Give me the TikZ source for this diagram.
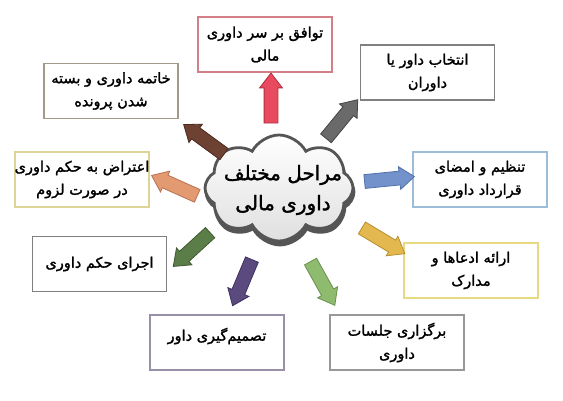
\documentclass[tikz,border=0pt]{standalone}
\usepackage{fontspec}
\newfontfamily\fab[Script=Arabic,FakeBold=1.6]{DejaVu Sans}
\TeXXeTstate=1
\usetikzlibrary{shapes.symbols,shapes.arrows}
\definecolor{cRed}{HTML}{E84A5F}\definecolor{cRedD}{HTML}{B03040}
\definecolor{cGray}{HTML}{6A6A6A}\definecolor{cGrayD}{HTML}{444444}
\definecolor{cBrown}{HTML}{6E4232}\definecolor{cBrownD}{HTML}{4A2A20}
\definecolor{cOrange}{HTML}{E49A70}\definecolor{cOrangeD}{HTML}{B87050}
\definecolor{cBlue}{HTML}{7392CC}\definecolor{cBlueD}{HTML}{5070A8}
\definecolor{cYellow}{HTML}{E3B84E}\definecolor{cYellowD}{HTML}{B89030}
\definecolor{cLGreen}{HTML}{8FBB6E}\definecolor{cLGreenD}{HTML}{6A9050}
\definecolor{cPurple}{HTML}{5B4A7E}\definecolor{cPurpleD}{HTML}{3E3060}
\definecolor{cDGreen}{HTML}{5B7D47}\definecolor{cDGreenD}{HTML}{405A30}
\definecolor{bRed}{HTML}{D47F88}
\definecolor{bGray}{HTML}{808080}
\definecolor{bTan}{HTML}{A09A88}
\definecolor{bPale}{HTML}{DDD598}
\definecolor{bBlue}{HTML}{9DBCD8}
\definecolor{bYellow}{HTML}{E8DA80}
\definecolor{bPurple}{HTML}{9890A8}
\definecolor{bLGray}{HTML}{989898}
\definecolor{cloudEdge}{HTML}{555555}
\tikzset{
  stagebox/.style={draw=#1, line width=1.1pt, fill=white, minimum width=134pt, minimum height=55pt, inner sep=0pt},
  stagetext/.style={font=\fab\fontsize{14.5}{23}\selectfont, align=center, text=black, inner sep=0pt},
  blockarrow/.style={single arrow, draw=#1, line width=0.8pt, inner sep=6.5pt, minimum height=50pt,
     single arrow head extend=4.5pt, single arrow tip angle=75, sloped, allow upside down},
  cloudshape/.style={cloud, cloud puffs=8, cloud puff arc=125, aspect=1.4, minimum width=148pt, minimum height=106pt, line width=2.8pt}
}
\begin{document}
\begin{tikzpicture}[x=1pt,y=-1pt]
\useasboundingbox (0,0) rectangle (563,400);
\fill[white] (0,0) rectangle (563,400);
% boxes
\node[stagebox=bRed] (b1) at (265,44.5) {};
\node[stagetext] (t1) at (b1) {\beginR توافق بر سر داوری\endR\\\beginR مالی\endR};
\node[stagebox=bGray] (b2) at (427.5,72.5) {};
\node[stagetext] (t2) at (b2) {\beginR انتخاب داور یا\endR\\\beginR داوران\endR};
\node[stagebox=bTan] (b3) at (111,91) {};
\node[stagetext] (t3) at (b3) {\beginR خاتمه داوری و بسته\endR\\\beginR شدن پرونده\endR};
\node[stagebox=bPale] (b4) at (82,179.5) {};
\node[stagetext] (t4) at (b4) {\beginR اعتراض به حکم داوری\endR\\\beginR در صورت لزوم\endR};
\node[stagebox=bBlue] (b5) at (480,179.5) {};
\node[stagetext] (t5) at (b5) {\beginR تنظیم و امضای\endR\\\beginR قرارداد داوری\endR};
\node[stagebox=bYellow] (b6) at (471,270.5) {};
\node[stagetext] (t6) at (b6) {\beginR ارائه ادعاها و\endR\\\beginR مدارک\endR};
\node[stagebox=bGray] (b7) at (99.5,264) {};
\node[stagetext] (t7) at (b7) {\beginR اجرای حکم داوری\endR};
\node[stagebox=bPurple] (b8) at (217,342.5) {};
\node[stagetext] (t8) at (217,336) {\beginR تصمیم‌گیری داور\endR};
\node[stagebox=bLGray] (b9) at (397,342.5) {};
\node[stagetext] (t9) at (b9) {\beginR برگزاری جلسات\endR\\\beginR داوری\endR};
% cloud
\node[cloudshape, fill=cloudEdge, draw=cloudEdge] (shadow) at (280,192) {};
\node[cloudshape, top color=white, bottom color=gray!25, draw=cloudEdge] (cl) at (279,188) {};
\node[font=\fab\fontsize{20}{30}\selectfont, align=center, inner sep=0pt] (ctext) at (283,190)
  {\beginR مراحل مختلف\endR\\\beginR داوری مالی\endR};
% arrows
\coordinate (a1t) at (271,127); \coordinate (a1h) at (271,78);
\coordinate (a2t) at (323,142); \coordinate (a2h) at (355,103);
\coordinate (a3t) at (228,157); \coordinate (a3h) at (187,127);
\coordinate (a4t) at (202,198); \coordinate (a4h) at (155,177);
\coordinate (a5t) at (360,182); \coordinate (a5h) at (410,177);
\coordinate (a6t) at (357,225); \coordinate (a6h) at (402,252);
\coordinate (a7t) at (308,257); \coordinate (a7h) at (333,302);
\coordinate (a8t) at (253,257); \coordinate (a8h) at (235,300);
\coordinate (a9t) at (213,230); \coordinate (a9h) at (177,263);
\path (a1t) -- node[blockarrow=cRedD, fill=cRed] (ar1) {} (a1h);
\path (a2t) -- node[blockarrow=cGrayD, fill=cGray] (ar2) {} (a2h);
\path (a3t) -- node[blockarrow=cBrownD, fill=cBrown] (ar3) {} (a3h);
\path (a4t) -- node[blockarrow=cOrangeD, fill=cOrange] (ar4) {} (a4h);
\path (a5t) -- node[blockarrow=cBlueD, fill=cBlue] (ar5) {} (a5h);
\path (a6t) -- node[blockarrow=cYellowD, fill=cYellow] (ar6) {} (a6h);
\path (a7t) -- node[blockarrow=cLGreenD, fill=cLGreen] (ar7) {} (a7h);
\path (a8t) -- node[blockarrow=cPurpleD, fill=cPurple] (ar8) {} (a8h);
\path (a9t) -- node[blockarrow=cDGreenD, fill=cDGreen] (ar9) {} (a9h);
\end{tikzpicture}
\end{document}
